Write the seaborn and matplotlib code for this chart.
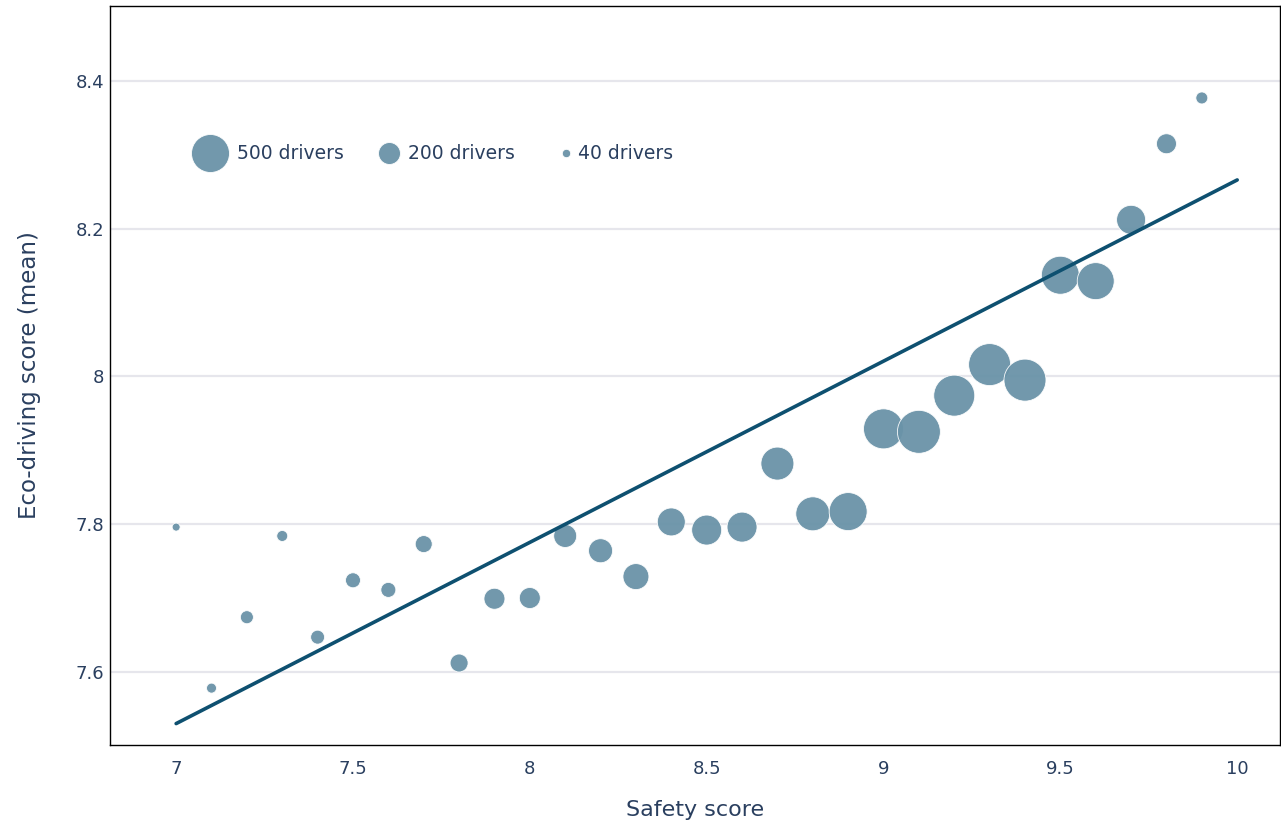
import numpy as np
import pandas as pd
import seaborn as sns
import matplotlib
matplotlib.use("Agg")
import matplotlib.pyplot as plt
from matplotlib.lines import Line2D
from matplotlib.legend_handler import HandlerBase

# Safety score buckets, mean eco-driving score and number of drivers per bucket
safety_score = [7.0, 7.1, 7.2, 7.3, 7.4, 7.5, 7.6, 7.7, 7.8, 7.9,
                8.0, 8.1, 8.2, 8.3, 8.4, 8.5, 8.6, 8.7, 8.8, 8.9,
                9.0, 9.1, 9.2, 9.3, 9.4, 9.5, 9.6, 9.7, 9.8, 9.9]
eco_score_mean = [7.796, 7.578, 7.674, 7.784, 7.647, 7.724, 7.711, 7.773, 7.612, 7.699,
                  7.700, 7.784, 7.764, 7.729, 7.803, 7.792, 7.796, 7.882, 7.814, 7.817,
                  7.929, 7.925, 7.974, 8.016, 7.995, 8.137, 8.129, 8.212, 8.315, 8.377]
drivers = [37, 54, 84, 63, 94, 106, 106, 131, 144, 186,
           186, 216, 233, 265, 300, 337, 337, 395, 415, 500,
           545, 614, 568, 591, 591, 500, 478, 319, 171, 73]

# Linear trend of eco-driving score against safety score
trend_x = [7.0, 10.0]
trend_y = [7.530, 8.266]

legend_counts = [500, 200, 40]
legend_labels = ["500 drivers", "200 drivers", "40 drivers"]

MARKER_COLOR = "#6a93a8"
LINE_COLOR = "#0e5070"
TEXT_COLOR = "#2a3f5f"
GRID_COLOR = "#e6e6ec"


def marker_area(n):
    # marker diameter grows with n**0.6; 500 drivers -> ~27 pt across
    return 748.0 * (np.asarray(n, dtype=float) / 500.0) ** 1.2


class RightAlignedMarker(HandlerBase):
    """Legend handler that puts the marker flush against its label."""

    def create_artists(self, legend, orig_handle, xdescent, ydescent,
                       width, height, fontsize, trans):
        ms = orig_handle.get_markersize()
        x = -xdescent + width - ms / 2.0
        y = -ydescent + height / 2.0
        mark = Line2D([x], [y], linestyle="none", marker="o", markersize=ms,
                      markerfacecolor=orig_handle.get_markerfacecolor(),
                      markeredgecolor=orig_handle.get_markeredgecolor(),
                      markeredgewidth=orig_handle.get_markeredgewidth(),
                      alpha=orig_handle.get_alpha())
        mark.set_transform(trans)
        return [mark]


df = pd.DataFrame({
    "safety": safety_score,
    "eco": eco_score_mean,
    "drivers": drivers,
})
df["area"] = marker_area(df["drivers"])

sns.set_theme(style="white")
plt.rcParams["font.family"] = ["DejaVu Sans"]

fig = plt.figure(figsize=(12.81, 8.22), dpi=100)
ax = fig.add_axes([110 / 1281, 1 - 745 / 822, 1170 / 1281, 739 / 822])

ax.set_xlim(6.813, 10.121)
ax.set_ylim(7.501, 8.5015)

ax.set_yticks([7.6, 7.8, 8.0, 8.2, 8.4])
ax.set_yticklabels(["7.6", "7.8", "8", "8.2", "8.4"])
ax.set_xticks([7, 7.5, 8, 8.5, 9, 9.5, 10])
ax.set_xticklabels(["7", "7.5", "8", "8.5", "9", "9.5", "10"])
ax.yaxis.grid(True, color=GRID_COLOR, linewidth=1.6, zorder=0)
ax.xaxis.grid(False)
ax.set_axisbelow(True)

sns.scatterplot(
    data=df, x="safety", y="eco", size="area",
    sizes=(df["area"].min(), df["area"].max()),
    size_norm=(df["area"].min(), df["area"].max()),
    color=MARKER_COLOR, alpha=0.95, edgecolor="white", linewidth=0.6,
    legend=False, ax=ax, zorder=3,
)

sns.lineplot(x=trend_x, y=trend_y, color=LINE_COLOR, linewidth=2.6, ax=ax, zorder=4)

for side in ["left", "bottom", "top", "right"]:
    ax.spines[side].set_visible(True)
    ax.spines[side].set_color("black")
    ax.spines[side].set_linewidth(1.0)

ax.tick_params(axis="both", length=0, labelsize=13, colors=TEXT_COLOR)
ax.tick_params(axis="x", pad=11)
ax.tick_params(axis="y", pad=4)

ax.set_xlabel("Safety score", fontsize=16, color=TEXT_COLOR, labelpad=16)
ax.set_ylabel("Eco-driving score (mean)", fontsize=16.5, color=TEXT_COLOR, labelpad=25)

handles = [
    Line2D([0], [0], linestyle="none", marker="o",
           markersize=float(np.sqrt(marker_area(c))),
           markerfacecolor=MARKER_COLOR, markeredgecolor="white",
           markeredgewidth=0.6, alpha=0.95)
    for c in legend_counts
]
leg = ax.legend(
    handles, legend_labels, ncol=3, frameon=False,
    loc="center left", bbox_to_anchor=(0.062, 0.80),
    fontsize=13.5, handlelength=2.1, handletextpad=0.4,
    columnspacing=0.9, borderaxespad=0,
    handler_map={Line2D: RightAlignedMarker()},
)
for t in leg.get_texts():
    t.set_color(TEXT_COLOR)

fig.savefig("out.png", dpi=100, facecolor="white")
